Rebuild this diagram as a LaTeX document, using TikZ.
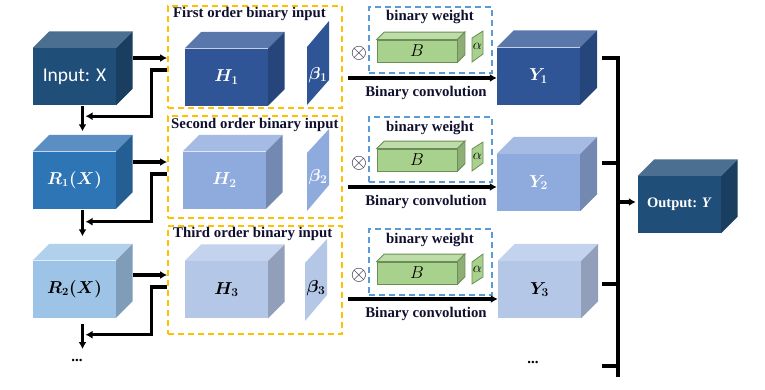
\documentclass[tikz,border=0pt]{standalone}
\usepackage{amsmath}
\usepackage{fontspec}
\setmainfont{Liberation Serif}
\newfontfamily\calib{Carlito}
\usetikzlibrary{arrows.meta,calc}
\definecolor{cinF}{HTML}{1F4E79}\definecolor{cinT}{HTML}{4A6F91}\definecolor{cinS}{HTML}{1A3E5F}
\definecolor{craF}{HTML}{2E75B6}\definecolor{craT}{HTML}{5B8FC4}\definecolor{craS}{HTML}{255E93}
\definecolor{crbF}{HTML}{9DC3E6}\definecolor{crbT}{HTML}{B0D0EC}\definecolor{crbS}{HTML}{7F9DB9}
\definecolor{chaF}{HTML}{2F5597}\definecolor{chaT}{HTML}{5A77AC}\definecolor{chaS}{HTML}{26457A}
\definecolor{chbF}{HTML}{8FAADC}\definecolor{chbT}{HTML}{A6BBE3}\definecolor{chbS}{HTML}{7489B1}
\definecolor{chcF}{HTML}{B4C7E7}\definecolor{chcT}{HTML}{C3D3EE}\definecolor{chcS}{HTML}{919FBA}
\definecolor{cgF}{HTML}{A9D18E}\definecolor{cgT}{HTML}{BEDCA8}\definecolor{cgS}{HTML}{8DAF76}
\definecolor{gD}{HTML}{6B8E57}
\definecolor{orangeC}{HTML}{FFC000}\definecolor{blueC}{HTML}{5B9BD5}\definecolor{navyT}{HTML}{10102E}
\newcommand{\cubefaces}[4]{%
\path[fill=#3T,#4] (#1.north west) -- ([shift={(#2,-#2)}]#1.north west) -- ([shift={(#2,-#2)}]#1.north east) -- (#1.north east) -- cycle;
\path[fill=#3S,#4] (#1.north east) -- ([shift={(#2,-#2)}]#1.north east) -- ([shift={(#2,-#2)}]#1.south east) -- (#1.south east) -- cycle;}
\newcommand{\mylabfont}{\fontsize{17}{19}\selectfont}
\tikzset{
  thickline/.style={line width=3.2pt},
  arr/.style={line width=3.2pt, -{Latex[length=7pt,width=8pt]}},
  obox/.style={draw=orangeC, dash pattern=on 6pt off 4pt, line width=1.8pt, inner sep=0},
  bbox/.style={draw=blueC, dash pattern=on 6pt off 4pt, line width=1.6pt, inner sep=0},
  ttl/.style={font=\bfseries\fontsize{14.8}{16}\selectfont, text=navyT, inner sep=0},
  greenline/.style={draw=gD, line width=0.8pt},
  face/.style={inner sep=0, minimum width=83pt, minimum height=57pt},
  lab/.style={font=\mylabfont},
  otimes/.style={text=navyT, inner sep=0, font=\fontsize{20}{20}\selectfont},
  alab/.style={inner sep=0, font=\fontsize{15}{15}\selectfont},
  blab/.style={font=\fontsize{16}{16}\selectfont},
}
\begin{document}
\begin{tikzpicture}[x=1pt,y=-1pt]
\useasboundingbox (0,0) rectangle (765,389);
\fill[white] (0,0) rectangle (765,389);
% orange dashed boxes
\node[obox, minimum width=174pt, minimum height=102pt] (box1) at (255,57) {};
\node[obox, minimum width=174pt, minimum height=102pt] (box2) at (255,167) {};
\node[obox, minimum width=174pt, minimum height=108pt] (box3) at (255,280) {};
\node[ttl, anchor=west] (t1) at (173,14) {First order binary input};
\node[ttl, anchor=west] (t2) at (171,125) {Second order binary input};
\node[ttl, anchor=west] (t3) at (173,234) {Third order binary input};
% left cubes
\node[face, fill=cinF, text=white, font=\calib\fontsize{19.5}{22}\selectfont] (X) at (74.5,76.5) {Input: X};
\cubefaces{X}{16.5}{cin}{}
\node[face, fill=craF, text=white, font=\fontsize{16}{18}\selectfont] (Ra) at (74.5,180) {$\boldsymbol{R_1(X)}$};
\cubefaces{Ra}{16.5}{cra}{}
\node[face, fill=crbF, text=black, font=\fontsize{16}{18}\selectfont] (Rb) at (74.5,289) {$\boldsymbol{R_2(X)}$};
\cubefaces{Rb}{16.5}{crb}{}
% H cubes
\node[face, fill=chaF, text=white, lab] (Ha) at (226.5,77) {$\boldsymbol{H_1}$};
\cubefaces{Ha}{16.5}{cha}{}
\node[face, fill=chbF, text=white, lab] (Hb) at (224.5,180) {$\boldsymbol{H_2}$};
\cubefaces{Hb}{16.5}{chb}{}
\node[face, fill=chcF, text=black, lab] (Hc) at (226.5,289.5) {$\boldsymbol{H_3}$};
\cubefaces{Hc}{16.5}{chc}{}
% betas
\fill[chaF] (307,105) -- (307,47) -- (329,21) -- (329,80) -- cycle;
\node[text=white, lab] (b1) at (318,75) {$\boldsymbol{\beta_1}$};
\fill[chbF] (307,211) -- (307,153) -- (329,129) -- (329,185) -- cycle;
\node[text=white, lab] (b2) at (318,177) {$\boldsymbol{\beta_2}$};
\fill[chcF] (305,321) -- (305,263) -- (327,239) -- (327,295) -- cycle;
\node[text=black, lab] (b3) at (316,288) {$\boldsymbol{\beta_3}$};
% Y cubes
\node[face, fill=chaF, text=white, lab] (Ya) at (538.5,76) {$\boldsymbol{Y_1}$};
\cubefaces{Ya}{17}{cha}{}
\node[face, fill=chbF, text=white, lab] (Yb) at (538.5,182.5) {$\boldsymbol{Y_2}$};
\cubefaces{Yb}{17}{chb}{}
\node[face, fill=chcF, text=black, lab] (Yc) at (539.5,289.5) {$\boldsymbol{Y_3}$};
\cubefaces{Yc}{17}{chc}{}
\node[face, fill=cinF, text=white, font=\bfseries\fontsize{14.5}{16}\selectfont] (Out) at (679.5,204.5) {Output: \textit{Y}};
\cubefaces{Out}{16.5}{cin}{}
% binary weight boxes
\node[bbox, minimum width=123pt, minimum height=66pt] (w1) at (430.5,40) {};
\node[bbox, minimum width=123pt, minimum height=65pt] (w2) at (430.5,149.5) {};
\node[bbox, minimum width=123pt, minimum height=66pt] (w3) at (430.5,262) {};
\node[ttl] (wt1) at (430,17) {binary weight};
\node[ttl] (wt2) at (430,128) {binary weight};
\node[ttl] (wt3) at (430,240) {binary weight};
\node[inner sep=0, minimum width=80pt, minimum height=22pt, fill=cgF, greenline, blab] (Ba) at (417,51) {$B$};
\cubefaces{Ba}{7.5}{cg}{greenline}
\node[inner sep=0, minimum width=80pt, minimum height=22pt, fill=cgF, greenline, blab] (Bb) at (417,160) {$B$};
\cubefaces{Bb}{7.5}{cg}{greenline}
\node[inner sep=0, minimum width=80pt, minimum height=22pt, fill=cgF, greenline, blab] (Bc) at (417,273) {$B$};
\cubefaces{Bc}{7.5}{cg}{greenline}
\filldraw[fill=cgF, greenline] (472,62) -- (472,38) -- (483,31) -- (483,54) -- cycle;
\node[alab] (a1) at (477.5,46) {$\alpha$};
\filldraw[fill=cgF, greenline] (472,171) -- (472,149) -- (483,142) -- (483,163) -- cycle;
\node[alab] (a2) at (477.5,156) {$\alpha$};
\filldraw[fill=cgF, greenline] (472,284) -- (472,262) -- (483,254) -- (483,277) -- cycle;
\node[alab] (a3) at (477.5,269) {$\alpha$};
\node[otimes] (o1) at (359,53) {$\otimes$};
\node[otimes] (o2) at (359,163) {$\otimes$};
\node[otimes] (o3) at (359,275) {$\otimes$};
% binary convolution arrows
\coordinate (c1) at ([shift={(5,21)}]box1.east);
\coordinate (c2) at ([shift={(5,20)}]box2.east);
\coordinate (c3) at ([shift={(5,19)}]box3.east);
\draw[arr] (c1) -- (c1 -| Ya.west);
\draw[arr] (c2) -- (c2 -| Yb.west);
\draw[arr] (c3) -- (c3 -| Yc.west);
\node[ttl] (bc1) at (426,93) {Binary convolution};
\node[ttl] (bc2) at (426,202) {Binary convolution};
\node[ttl] (bc3) at (426,314) {Binary convolution};
% left connectors
\coordinate (xo1) at ([shift={(17,-18.5)}]X.east);
\coordinate (xo2) at ([shift={(17,-18)}]Ra.east);
\coordinate (xo3) at ([shift={(17,-14)}]Rb.east);
\draw[arr] (xo1) -- (xo1 -| box1.west);
\draw[arr] (xo2) -- (xo2 -| box2.west);
\draw[arr] (xo3) -- (xo3 -| box3.west);
\coordinate (fb1) at ([shift={(0,13)}]box1.west);
\coordinate (fb2) at ([shift={(0,7)}]box2.west);
\coordinate (fb3) at ([shift={(0,7)}]box3.west);
\coordinate (m1) at ([shift={(11,11)}]X.south);
\coordinate (m2) at ([shift={(11,13)}]Ra.south);
\coordinate (m3) at ([shift={(11,17)}]Rb.south);
\draw[arr] (fb1) -- ++(-16,0) |- (m1);
\draw[arr] (fb2) -- ++(-16,0) |- (m2);
\draw[arr] (fb3) -- ++(-16,0) |- (m3);
\node (dotsL) at (77,360) {\bfseries\fontsize{15}{15}\selectfont...};
\draw[arr] ([shift={(8,1)}]X.south) -- ([shift={(8,-20)}]Ra.north);
\draw[arr] ([shift={(8,1)}]Ra.south) -- ([shift={(8,-24)}]Rb.north);
\draw[arr] ([shift={(8,6)}]Rb.south) -- ([shift={(5.5,-11)}]dotsL.center);
% right bus
\node (dotsR) at (533,362) {\bfseries\fontsize{15}{15}\selectfont...};
\coordinate (s1) at ([shift={(22,-18)}]Ya.east);
\coordinate (s2) at ([shift={(22,-19.5)}]Yb.east);
\coordinate (s3) at ([shift={(21,-5.5)}]Yc.east);
\coordinate (s4) at ([shift={(69,4)}]dotsR.center);
\coordinate (bb) at (618,377);
\draw[thickline] (s1) -| (bb);
\draw[thickline] (s2) -- (s2 -| bb);
\draw[thickline] (s3) -- (s3 -| bb);
\draw[thickline] (s4) -- (s4 -| bb);
\coordinate (bo) at (618,202);
\draw[arr, shorten >=2pt] (bo) -- (bo -| Out.west);
\end{tikzpicture}
\end{document}
